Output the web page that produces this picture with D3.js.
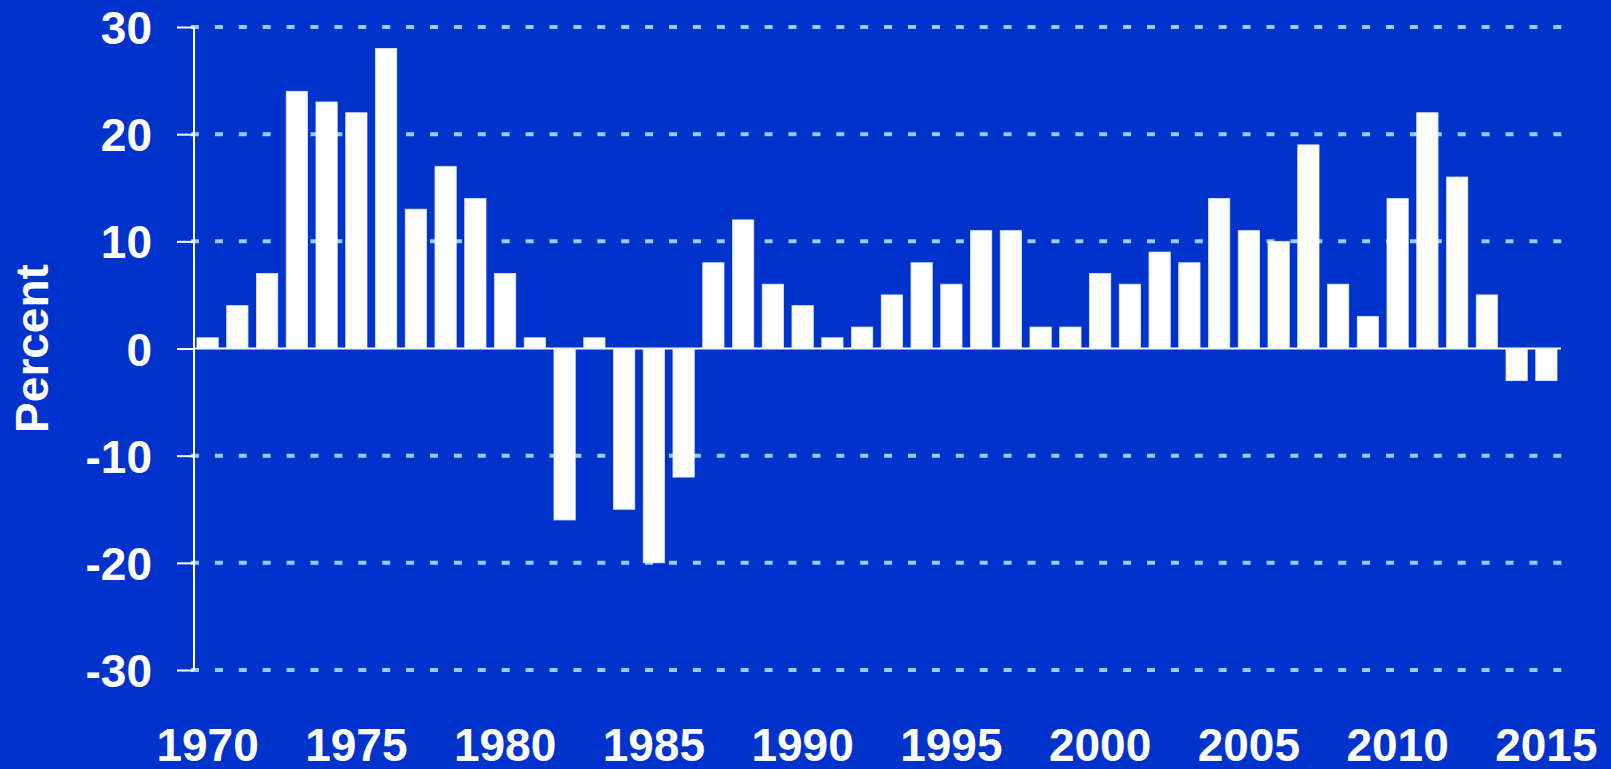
<!DOCTYPE html>
<html>
<head>
<meta charset="utf-8">
<script src="https://cdn.jsdelivr.net/npm/d3@7"></script>
<style>
  html, body { margin: 0; padding: 0; background: #0033cc; }
  #chart svg { display: block; }
</style>
</head>
<body>
<div id="chart"></div>
<script>
// annual percent change, 1970-2015
const years = d3.range(1970, 2016);
const values = [1, 4, 7, 24, 23, 22, 28, 13, 17, 14,
                7, 1, -16, 1, -15, -20, -12, 8, 12, 6,
                4, 1, 2, 5, 8, 6, 11, 11, 2, 2,
                7, 6, 9, 8, 14, 11, 10, 19, 6, 3,
                14, 22, 16, 5, -3, -3];
const yTicks = [-30, -20, -10, 0, 10, 20, 30];
const xLabels = [1970, 1975, 1980, 1985, 1990, 1995, 2000, 2005, 2010, 2015];

const data = years.map((y, i) => ({year: y, value: values[i]}));

var w = 1611, h = 769;
var plotLeft = 194, plotRight = 1560, plotTop = 27, plotBottom = 670;

var svg = d3.select("#chart")
  .append("svg")
  .attr("width", w)
  .attr("height", h)
  .style("background", "#0033cc")
  .style("font-family", "'Liberation Sans', Arial, sans-serif")
  .style("font-weight", "bold");

var x = d3.scaleBand()
  .domain(years)
  .range([plotLeft, plotRight])
  .paddingInner(0.285)
  .paddingOuter(0.1);

var y = d3.scaleLinear()
  .domain([-30, 30])
  .range([plotBottom, plotTop]);

// dashed grid
svg.append("g")
  .selectAll("line")
  .data(yTicks.filter(d => d != 0))
  .enter()
  .append("line")
  .attr("x1", plotLeft - 3)
  .attr("x2", 1563)
  .attr("y1", d => y(d))
  .attr("y2", d => y(d))
  .attr("stroke", "#99ccff")
  .attr("stroke-width", 4)
  .attr("stroke-dasharray", "8,15.9");

// zero line
svg.append("line")
  .attr("x1", plotLeft)
  .attr("x2", 1561)
  .attr("y1", y(0))
  .attr("y2", y(0))
  .attr("stroke", "#ffffff")
  .attr("stroke-width", 2);

// bars
svg.append("g")
  .selectAll("rect")
  .data(data)
  .enter()
  .append("rect")
  .attr("x", d => x(d.year))
  .attr("width", x.bandwidth())
  .attr("y", d => y(Math.max(0, d.value)))
  .attr("height", d => Math.abs(y(d.value) - y(0)))
  .attr("fill", "#ffffff")
  .attr("stroke", "#dde6ff")
  .attr("stroke-width", 0.8);

// y axis
var yAxis = svg.append("g")
  .attr("transform", "translate(" + plotLeft + ",0)")
  .call(d3.axisLeft(y).tickValues(yTicks).tickSize(17).tickPadding(25).tickFormat(d => String(d)));

yAxis.select(".domain")
  .attr("stroke", "#ffffff")
  .attr("stroke-width", 2)
  .attr("d", "M0," + y(30) + "V" + y(-30));
yAxis.selectAll(".tick line")
  .attr("stroke", "#ffffff")
  .attr("stroke-width", 2);
yAxis.selectAll(".tick text")
  .attr("fill", "#ffffff")
  .style("font-size", "46px")
  .attr("dy", "0.36em");

// x labels
var xAxis = svg.append("g");

xAxis.selectAll("text")
  .data(xLabels)
  .enter()
  .append("text")
  .attr("x", d => x(d) + x.bandwidth() / 2)
  .attr("y", 761)
  .attr("text-anchor", "middle")
  .attr("fill", "#ffffff")
  .style("font-size", "46px")
  .text(d => d);

// axis title
svg.append("text")
  .attr("transform", "translate(48," + y(0) + ") rotate(-90)")
  .attr("text-anchor", "middle")
  .attr("fill", "#ffffff")
  .style("font-size", "46px")
  .text("Percent");
</script>
</body>
</html>
